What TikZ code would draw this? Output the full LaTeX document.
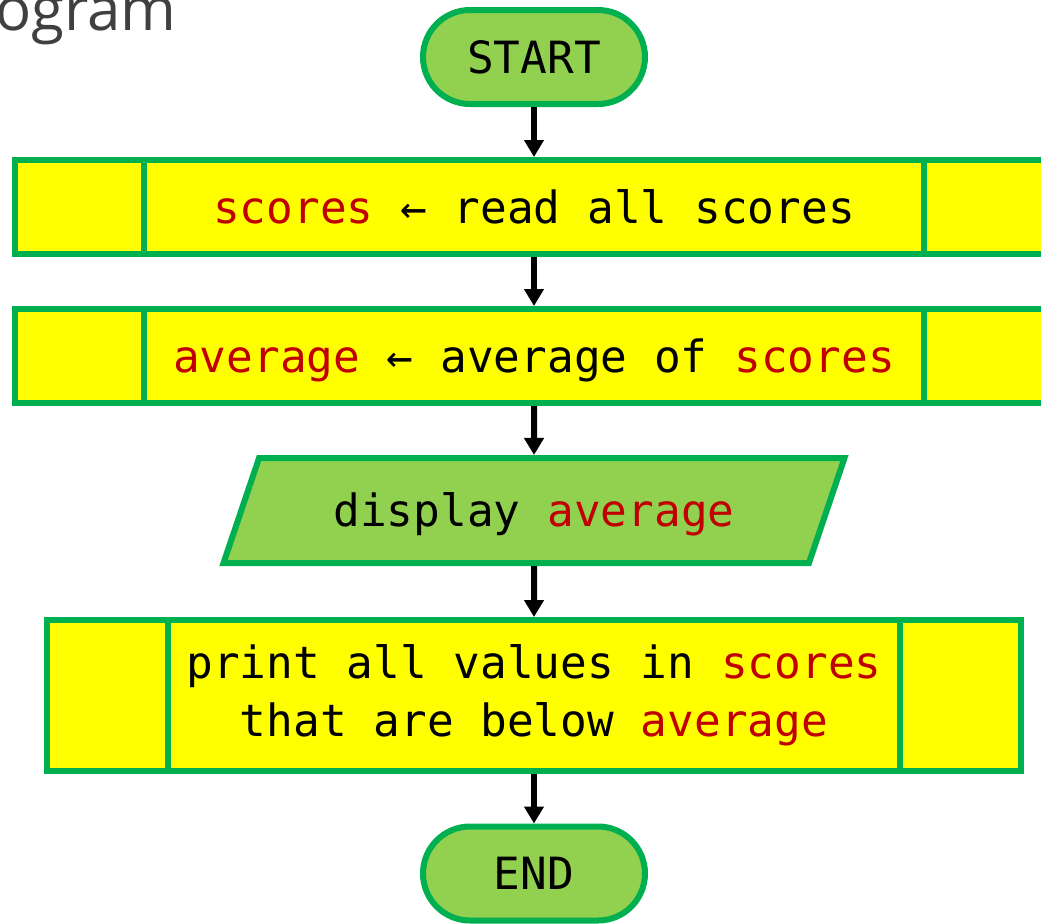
\documentclass[tikz,border=0pt]{standalone}
\usepackage{fontspec}
\usetikzlibrary{shapes.geometric,arrows.meta}
\newfontfamily\monofam{DejaVu Sans Mono}
\newfontfamily\titlefam{Open Sans}
\newcommand{\cfont}{\monofam\fontsize{22.2pt}{28.9pt}\selectfont}
\newcommand{\var}[1]{\textcolor{kred}{#1}}
\definecolor{fgreen}{HTML}{00B050}
\definecolor{lgreen}{HTML}{92D050}
\definecolor{kred}{HTML}{C00000}
\definecolor{boxyellow}{HTML}{FFFF00}
\definecolor{titlegray}{HTML}{404040}
\tikzset{
  terminal/.style={draw=fgreen, fill=lgreen, line width=3pt, rounded corners=23.5pt,
    minimum width=111pt, minimum height=47pt, inner sep=0pt,
    font=\cfont, text height=16pt, text depth=0pt},
  process/.style={draw=fgreen, fill=boxyellow, line width=3pt, inner sep=0pt,
    font=\cfont, text height=16pt, text depth=0pt},
  divided/.style={path picture={
    \draw[fgreen, line width=3pt]
      ([xshift=#1]path picture bounding box.north west) --
      ([xshift=#1]path picture bounding box.south west)
      ([xshift=-#1]path picture bounding box.north east) --
      ([xshift=-#1]path picture bounding box.south east);}},
  iobox/.style={draw=fgreen, fill=lgreen, line width=3pt, trapezium,
    trapezium left angle=51, trapezium right angle=129, trapezium stretches=true,
    minimum width=311pt, minimum height=52.5pt, inner sep=0pt,
    font=\cfont, text height=16pt, text depth=0pt},
  flow/.style={draw=black, line width=3pt, -{Triangle[width=9.5pt,length=8.5pt]}},
}
\begin{document}
\begin{tikzpicture}[x=0.5pt,y=-0.5pt]
  \clip (0,0) rectangle (1041,923);

  % heading, partly outside the frame
  \node[anchor=base east, inner sep=0pt, text=titlegray,
        font=\titlefam\fontsize{30pt}{36pt}\selectfont] (title) at (177,30) {Program};

  % flowchart blocks
  \node[terminal] (start) at (534,57) {START};
  \node[process, divided=64.5pt, minimum width=519pt, minimum height=47pt]
    (read) at (534,207) {\var{scores} ← read all scores};
  \node[process, divided=64.5pt, minimum width=519pt, minimum height=47pt]
    (avg) at (534,356) {\var{average} ← average of \var{scores}};
  \node[iobox] (disp) at (534,510.5) {display \var{average}};
  \node[process, divided=60.5pt, minimum width=487pt, minimum height=75.5pt,
        align=center, text height=, text depth=]
    (print) at (534,695.5) {print all values in \var{scores}\\that are below \var{average}};
  \node[terminal] (end) at (534,873.5) {END};

  % connectors
  \draw[flow] (start) -- (read);
  \draw[flow] (read) -- (avg);
  \draw[flow] (avg) -- (disp);
  \draw[flow] (disp) -- (print);
  \draw[flow] (print) -- (end);
\end{tikzpicture}
\end{document}
